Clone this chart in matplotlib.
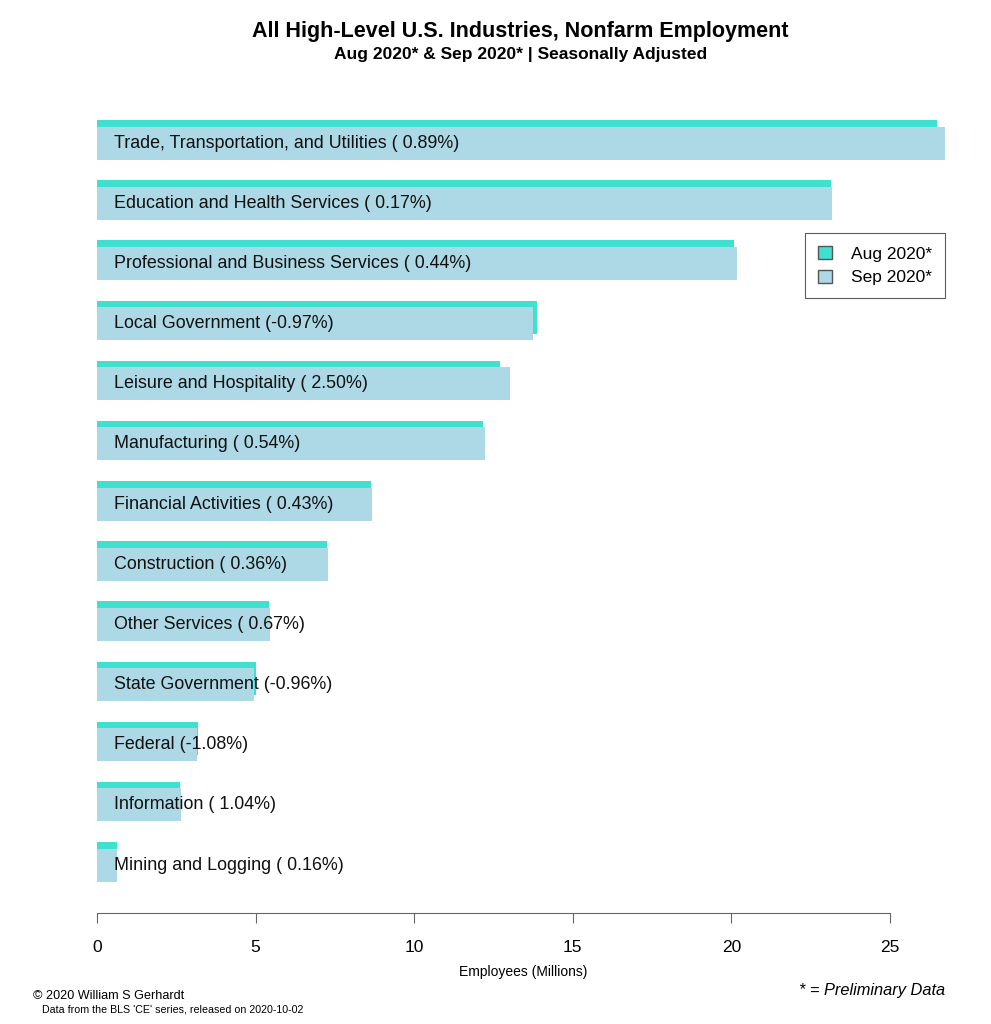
import matplotlib.pyplot as plt
from matplotlib.patches import Patch

plt.rcParams['font.family'] = ['Liberation Sans', 'DejaVu Sans']

# Data (millions of employees)
industries = ['Trade, Transportation, and Utilities', 'Education and Health Services',
              'Professional and Business Services', 'Local Government',
              'Leisure and Hospitality', 'Manufacturing', 'Financial Activities',
              'Construction', 'Other Services', 'State Government', 'Federal',
              'Information', 'Mining and Logging']
aug = [26.48, 23.14, 20.08, 13.87, 12.70, 12.17, 8.64, 7.25, 5.42, 5.01, 3.18, 2.62, 0.63]
sep = [26.72, 23.18, 20.17, 13.74, 13.02, 12.24, 8.68, 7.28, 5.46, 4.96, 3.15, 2.65, 0.63]
pct = ['0.89', '0.17', '0.44', '-0.97', '2.50', '0.54', '0.43', '0.36', '0.67',
       '-0.96', '-1.08', '1.04', '0.16']
xticks = [0, 5, 10, 15, 20, 25]

W, H = 991, 1024
fig = plt.figure(figsize=(W / 100, H / 100), dpi=100)
ax_l, ax_r, ax_t, ax_b = 97, 950, 100, 913
ax = fig.add_axes([ax_l / W, 1 - ax_b / H, (ax_r - ax_l) / W, (ax_b - ax_t) / H])

px_per_unit = (890 - 97) / 25
row = 60.17
bar_h = 33 / row
shift = 6.5 / row

for i, name in enumerate(industries):
    ax.barh(i - shift, aug[i], height=bar_h, color='#40E0D0', linewidth=0)
    ax.barh(i, sep[i], height=bar_h, color='#ADD8E6', linewidth=0)
    label = '%s (%s%%)' % (name, pct[i] if pct[i].startswith('-') else ' ' + pct[i])
    ax.text(17 / px_per_unit, i, label, va='center', ha='left', fontsize=12.9, color='#111111')

ax.set_xlim(0, (ax_r - ax_l) / px_per_unit)
ax.set_ylim((ax_b - 143) / row, (ax_t - 143) / row)
for s in ['top', 'right', 'left']:
    ax.spines[s].set_visible(False)
ax.spines['bottom'].set_bounds(0, 25)
ax.spines['bottom'].set_color('#666666')
ax.set_yticks([])
ax.set_xticks(xticks)
ax.tick_params(axis='x', length=7.5, color='#666666', labelsize=12.5, pad=12)
ax.set_xlabel('Employees (Millions)', fontsize=10, labelpad=7)

handles = [Patch(facecolor='#40E0D0', edgecolor='#555555', label='Aug 2020*'),
           Patch(facecolor='#ADD8E6', edgecolor='#555555', label='Sep 2020*')]
leg = ax.legend(handles=handles, loc='upper right', bbox_to_anchor=(945 / W, 1 - 233 / H),
                bbox_transform=fig.transFigure, fontsize=12.5, fancybox=False,
                edgecolor='#333333', handlelength=0.8, handleheight=0.8,
                borderpad=0.75, labelspacing=0.45, handletextpad=1.1, borderaxespad=0)
leg.get_frame().set_linewidth(0.8)

fig.text(520 / W, 1 - 31 / H, 'All High-Level U.S. Industries, Nonfarm Employment',
         ha='center', va='center', fontsize=15.5, fontweight='bold')
fig.text(521 / W, 1 - 55 / H, 'Aug 2020* & Sep 2020* | Seasonally Adjusted',
         ha='center', va='center', fontsize=12.5, fontweight='bold')
fig.text(33 / W, 1 - 996 / H, '\u00a9 2020 William S Gerhardt', ha='left', va='center', fontsize=9.1)
fig.text(42 / W, 1 - 1009 / H, "Data from the BLS 'CE' series, released on 2020-10-02",
         ha='left', va='center', fontsize=7.7)
fig.text(945 / W, 1 - 990 / H, '* = Preliminary Data', ha='right', va='center',
         fontsize=11.8, style='italic')

fig.savefig('out.png', dpi=100)
